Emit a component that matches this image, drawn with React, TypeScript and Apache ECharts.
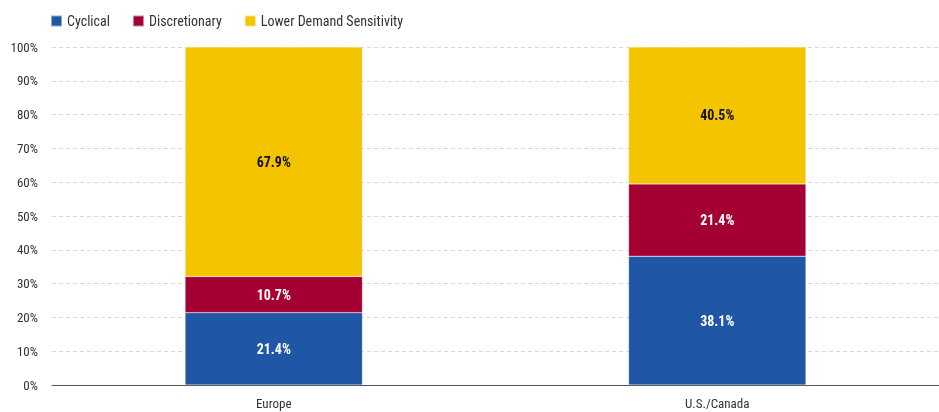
import React, { useEffect, useRef } from "react";
import * as echarts from "echarts";

const categories = ["Europe", "U.S./Canada"];
const cyclical = [21.4, 38.1];
const discretionary = [10.7, 21.4];
const lowerDemand = [67.9, 40.5];
const yTicks = [0, 10, 20, 30, 40, 50, 60, 70, 80, 90, 100];

const FONT = "'Liberation Sans Narrow', 'Roboto Condensed', 'Roboto', sans-serif";

export default function App() {
  const ref = useRef<HTMLDivElement>(null);
  useEffect(() => {
    const chart = echarts.init(ref.current!, null, { renderer: "svg" });
    const label = (color: string) => ({
      show: true,
      position: "inside",
      formatter: (p: any) => p.value.toFixed(1) + "%",
      color,
      fontFamily: FONT,
      fontWeight: "bold",
      fontSize: 14,
    });
    chart.setOption({
      animation: false,
      textStyle: { fontFamily: FONT },
      legend: {
        left: 45,
        top: 9,
        itemWidth: 11,
        itemHeight: 11,
        itemGap: 22,
        icon: "rect",
        textStyle: { fontFamily: FONT, fontSize: 14, color: "#333" },
        data: ["Cyclical", "Discretionary", "Lower Demand Sensitivity"],
      },
      grid: { left: 52, right: 0, top: 47, bottom: 27, containLabel: false },
      xAxis: {
        type: "category",
        data: categories,
        axisLine: { lineStyle: { color: "#555", width: 1 } },
        axisTick: { show: false },
        axisLabel: { fontFamily: FONT, fontSize: 13, color: "#333", margin: 12 },
      },
      yAxis: {
        type: "value",
        min: 0,
        max: 100,
        interval: 10,
        axisLine: { show: false },
        axisTick: { show: false },
        splitLine: { lineStyle: { color: "#d9d9d9", type: [4, 3] } },
        axisLabel: {
          fontFamily: FONT,
          fontSize: 13,
          color: "#333",
          margin: 14,
          formatter: (v: number) => (yTicks.includes(v) ? v + "%" : ""),
        },
      },
      series: [
        {
          name: "Cyclical",
          type: "bar",
          stack: "s",
          barWidth: "40%",
          data: cyclical,
          itemStyle: { color: "#1f56a6", borderColor: "rgba(255,255,255,0.5)", borderWidth: 0.5 },
          label: label("#fff"),
        },
        {
          name: "Discretionary",
          type: "bar",
          stack: "s",
          data: discretionary,
          itemStyle: { color: "#a50034", borderColor: "rgba(255,255,255,0.5)", borderWidth: 0.5 },
          label: label("#fff"),
        },
        {
          name: "Lower Demand Sensitivity",
          type: "bar",
          stack: "s",
          data: lowerDemand,
          itemStyle: { color: "#f4c400", borderColor: "rgba(255,255,255,0.5)", borderWidth: 0.5 },
          label: label("#111"),
        },
      ],
    });
    return () => chart.dispose();
  }, []);
  return (
    <div
      ref={ref}
      style={{ position: "fixed", left: 0, top: 0, width: 939, height: 412 }}
    />
  );
}
